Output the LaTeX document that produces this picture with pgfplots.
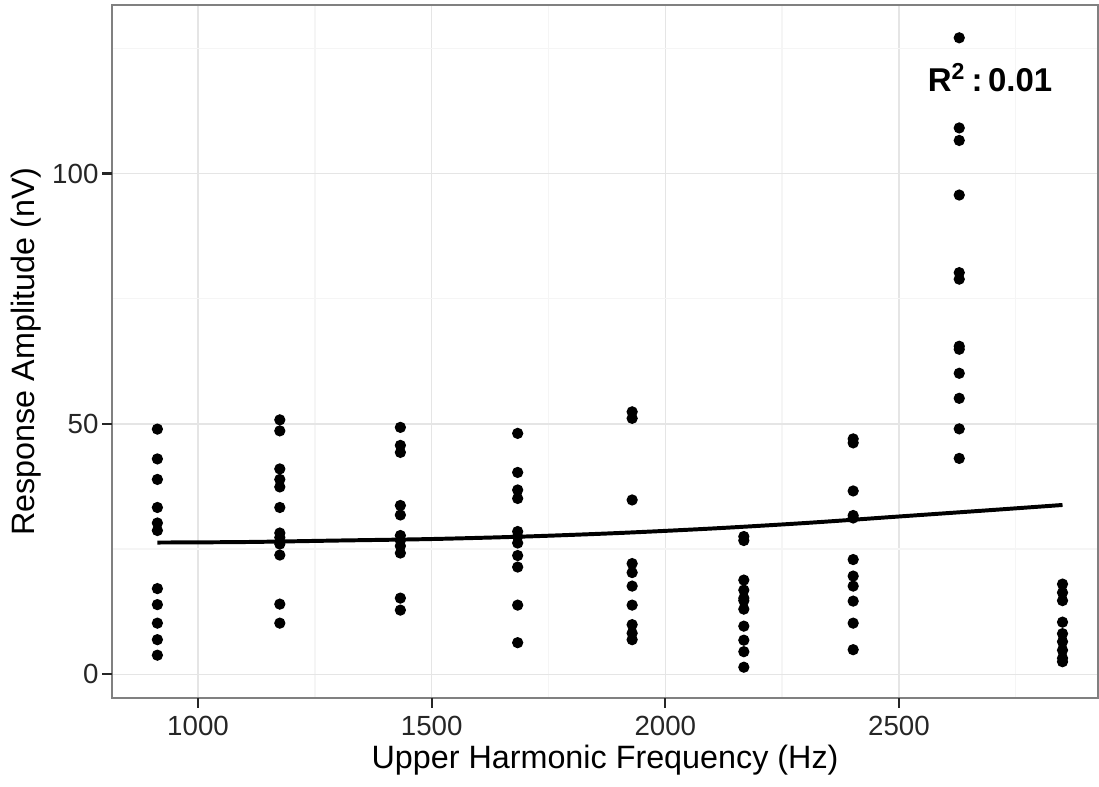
\documentclass[border=0pt]{standalone}
\usepackage{fontspec}
\setmainfont{Liberation Sans}
\usepackage{pgfplots}
\pgfplotsset{compat=1.18}
\definecolor{panelframe}{gray}{0.5}
\definecolor{majgrid}{gray}{0.9}
\definecolor{mingrid}{gray}{0.96}
\begin{document}
\begin{tikzpicture}
\begin{axis}[
  name=main,
  width=299pt, height=210pt,
  scale only axis,
  clip=false,
  xmin=816, xmax=2926,
  ymin=-4.7, ymax=133.6,
  xtick={1000,1500,2000,2500},
  ytick={0,50,100},
  minor xtick={1250,1750,2250,2750},
  minor ytick={25,75,125},
  grid=both,
  major grid style={majgrid, line width=0.4pt},
  minor grid style={mingrid, line width=0.4pt},
  axis line style={panelframe, line width=0.6pt},
  tick align=outside,
  xtick pos=bottom, ytick pos=left,
  major tick length=3pt,
  minor tick length=0pt,
  xtick style={black!85, line width=0.7pt},
  ytick style={black!85, line width=0.7pt},
  ticklabel style={font=\fontsize{8.4}{9}\selectfont, text=black!85},
  xticklabel style={yshift=1pt},
  yticklabel style={xshift=2.4pt},
  /pgf/number format/assume math mode=true,
  /pgf/number format/set thousands separator={},
  xlabel={Upper Harmonic Frequency (Hz)},
  ylabel={Response Amplitude (nV)},
  label style={font=\fontsize{9.8}{10}\selectfont},
  xlabel style={yshift=4pt},
  ylabel style={yshift=-3.5pt},
]
% observations
\addplot[only marks, mark=*, mark size=1.5pt, black] coordinates {
  (913,48.95) (913,43.0) (913,38.9) (913,33.3) (913,30.2) (913,28.7)
  (913,17.1) (913,13.9) (913,10.2) (913,6.9) (913,3.8)
  (1175,50.8) (1175,48.6) (1175,41.0) (1175,38.9) (1175,37.4) (1175,33.3)
  (1175,28.2) (1175,27.3) (1175,26.0) (1175,23.8) (1175,14.0) (1175,10.2)
  (1433,49.3) (1433,45.7) (1433,44.3) (1433,33.7) (1433,31.8) (1433,27.7)
  (1433,26.7) (1433,25.6) (1433,24.2) (1433,15.2) (1433,12.8)
  (1684,48.1) (1684,40.3) (1684,36.8) (1684,35.1) (1684,28.5) (1684,27.5)
  (1684,26.2) (1684,23.7) (1684,21.4) (1684,13.8) (1684,6.3)
  (1929,52.4) (1929,51.1) (1929,34.8) (1929,22.1) (1929,20.3) (1929,17.6)
  (1929,13.8) (1929,9.9) (1929,8.2) (1929,6.9)
  (2168,27.5) (2168,26.7) (2168,18.8) (2168,16.8) (2168,15.2) (2168,14.7)
  (2168,13.0) (2168,9.6) (2168,6.8) (2168,4.5) (2168,1.4)
  (2402,47.0) (2402,46.2) (2402,36.6) (2402,31.7) (2402,31.2) (2402,22.9)
  (2402,19.6) (2402,17.6) (2402,14.6) (2402,10.2) (2402,4.9)
  (2629,127.1) (2629,109.1) (2629,106.6) (2629,95.7) (2629,80.2) (2629,78.9)
  (2629,65.5) (2629,64.9) (2629,60.1) (2629,55.1) (2629,49.0) (2629,43.1)
  (2850,18.0) (2850,16.3) (2850,14.7) (2850,10.4) (2850,8.1) (2850,6.5)
  (2850,4.8) (2850,3.2) (2850,2.5)
};
% fitted curve
\addplot[black, line width=1.2pt, smooth] coordinates {
  (913,26.3) (1100,26.4) (1300,26.7) (1500,27.0) (1700,27.5) (1900,28.2)
  (2100,29.1) (2300,30.2) (2500,31.5) (2700,32.8) (2850,33.8)
};
\node[font=\bfseries\fontsize{10}{11}\selectfont] at (axis cs:2695,119.2) {R$^{\mathbf{2}}$\,:\,0.01};
% outside tick marks, ggplot style
\draw[black!85, line width=0.7pt] (axis cs:1000,-4.7) -- ++(0pt,-2.6pt);
\draw[black!85, line width=0.7pt] (axis cs:1500,-4.7) -- ++(0pt,-2.6pt);
\draw[black!85, line width=0.7pt] (axis cs:2000,-4.7) -- ++(0pt,-2.6pt);
\draw[black!85, line width=0.7pt] (axis cs:2500,-4.7) -- ++(0pt,-2.6pt);
\draw[black!85, line width=0.7pt] (axis cs:816,0) -- ++(-2.6pt,0pt);
\draw[black!85, line width=0.7pt] (axis cs:816,50) -- ++(-2.6pt,0pt);
\draw[black!85, line width=0.7pt] (axis cs:816,100) -- ++(-2.6pt,0pt);
\end{axis}
% small margin above the panel
\path ([yshift=1.6pt]main.north);
\end{tikzpicture}
\end{document}
